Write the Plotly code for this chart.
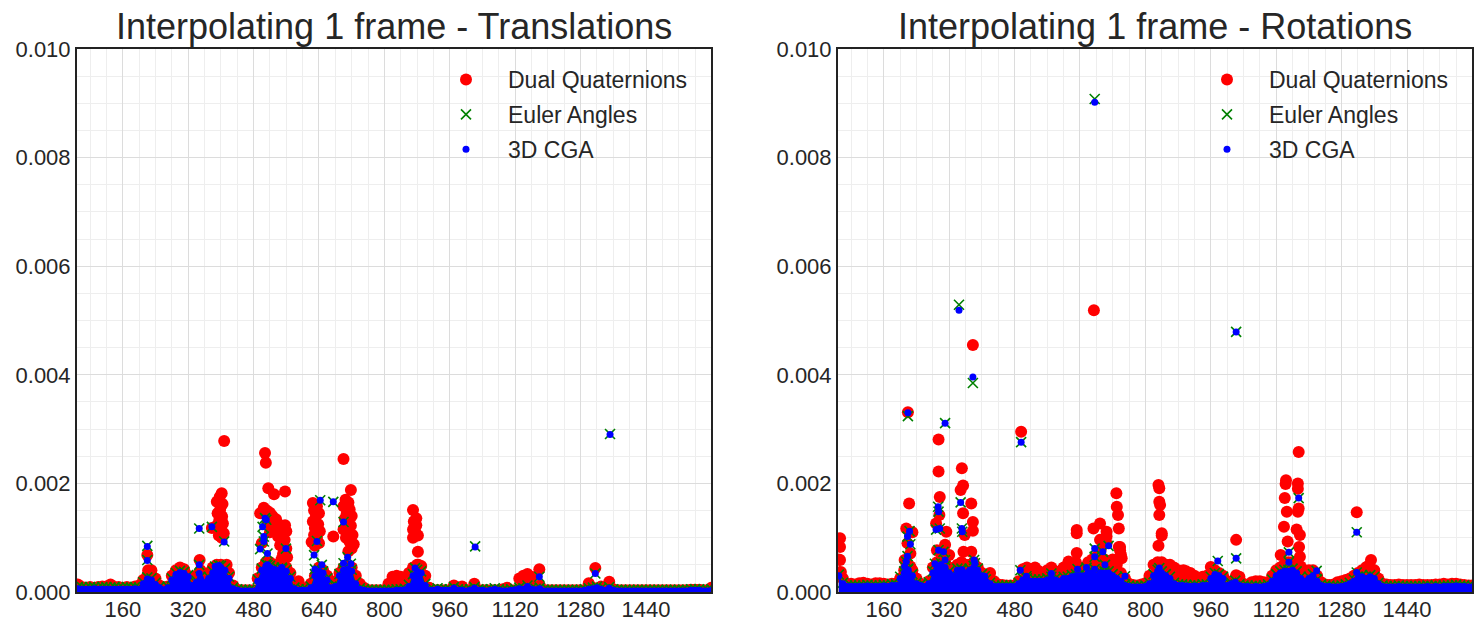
import plotly.graph_objects as go

# ---------------- data ----------------
# frame index grid for the dense low-error band (every 10th frame)
frames = list(range(50, 1601, 10))

# ---- Translations: band values (units of 1e-5) on the frame grid ----
t_dq_base = [14,9,8,9,8,9,10,10,14,9,
             9,8,9,8,10,12,22,30,40,25,
             12,6,10,30,40,45,42,30,15,30,
             40,30,35,45,50,50,45,35,12,4,
             3,3,3,3,25,45,55,55,50,50,
             50,45,35,12,20,8,4,15,30,45,
             40,30,10,20,35,45,48,45,30,15,
             8,3,3,3,3,3,15,28,30,28,
             15,35,45,50,48,30,8,3,3,3,
             3,3,12,4,10,3,3,15,3,3,
             3,3,3,3,5,8,3,3,25,30,
             33,28,10,12,3,3,3,3,3,3,
             3,3,3,3,3,16,8,6,10,6,
             19,5,3,3,3,3,3,3,3,3,
             3,3,3,3,3,3,3,3,3,3,
             4,4,4,3,3,8]
t_ea_base = [9,9,8,9,9,8,9,9,8,9,
             8,8,9,8,9,8,18,27,25,17,
             10,6,10,25,35,39,37,31,15,21,
             28,21,28,38,45,48,43,28,8,5,
             4,4,4,4,23,43,51,48,45,43,
             43,41,28,8,5,5,5,10,33,41,
             38,25,10,13,33,43,45,41,18,7,
             5,4,4,4,4,4,4,4,5,5,
             6,13,33,41,38,15,5,5,7,5,
             5,5,9,5,5,4,5,9,5,5,
             4,5,7,5,4,4,5,6,8,7,
             12,7,6,8,4,4,4,4,4,4,
             4,4,4,4,5,7,8,10,7,5,
             9,5,4,4,4,4,4,4,4,4,
             4,4,4,4,4,4,4,4,4,4,
             5,5,5,4,4,5]
t_cga_base = [6,5,5,5,6,5,5,5,5,5,
              5,5,5,5,6,5,15,24,22,14,
              8,4,8,22,32,36,34,28,12,18,
              25,18,25,35,42,45,40,25,6,3,
              2,2,2,2,20,40,48,45,42,40,
              40,38,25,6,3,3,3,8,30,38,
              35,22,8,10,30,40,42,38,15,5,
              3,2,2,2,2,2,2,2,3,3,
              4,10,30,38,35,12,3,3,5,3,
              3,3,7,3,3,2,3,7,3,3,
              2,3,5,3,2,2,3,4,6,5,
              10,5,4,6,2,2,2,2,2,2,
              2,2,2,2,3,5,6,8,5,3,
              7,3,2,2,2,2,2,2,2,2,
              2,2,2,2,2,2,2,2,2,2,
              3,3,3,2,2,3]

# ---- Translations: larger errors (units of 1e-4) ----
t_dq_x = [220,222,348,408,414,
          402,397,390,404,398,392,403,396,405,390,400,378,407,395,402,
          508,510,516,530,557,
          496,505,512,520,526,535,515,541,530,546,520,552,540,556,500,545,560,552,562,548,557,560,
          625,635,628,640,632,625,638,630,642,628,635,622,640,630,
          675,
          700,718,705,712,700,715,708,720,703,712,718,700,710,722,706,715,725,720,712,
          870,878,872,878,870,876,882,870,882,883,
          1179,1316]
t_dq_y = [6.8,4.0,5.9,27.8,5.0,
          18.2,17.5,16.6,16.2,15.1,14.5,13.9,13.2,12.6,12.2,11.6,11.8,10.8,10.4,10.0,
          25.6,23.8,19.1,18.0,18.5,
          14.5,15.5,15.0,14.6,14.0,13.4,12.8,12.5,12.0,11.5,11.0,10.8,10.2,9.6,9.0,8.6,8.0,7.0,6.4,6.0,12.3,11.2,
          16.4,15.8,15.0,14.5,13.8,13.0,12.5,11.8,11.2,10.5,10.0,9.2,9.0,8.5,
          10.2,
          24.5,18.8,17.0,16.5,15.8,15.2,14.5,14.0,13.5,13.0,12.2,11.5,11.0,10.5,10.0,9.2,8.8,8.0,7.5,
          15.1,13.6,13.0,12.3,11.5,11.0,10.4,10.0,7.4,5.0,
          4.2,4.4]
t_ea_x = [220,220,347,347,378,408,386,395,
          508,511,502,505,505,496,514,559,514,549,
          643,675,635,628,647,630,
          700,710,700,718,875,
          1022,1179,1316,1352]
t_ea_y = [8.5,5.9,11.7,5.0,12.0,9.3,4.7,4.9,
          13.6,13.3,12.0,10.2,9.3,7.9,7.1,8.0,5.0,4.5,
          16.9,16.6,9.4,6.8,5.0,4.2,
          12.9,6.4,5.3,5.2,4.4,
          8.4,2.8,3.4,29.1]
t_cga_x = [220,220,347,347,347,378,408,386,395,
           508,511,502,505,505,496,514,559,514,549,
           643,675,635,628,647,630,
           700,710,700,718,875,
           1022,1179,1316,1352]
t_cga_y = [8.4,5.8,11.7,5.0,3.4,12.0,9.2,4.7,4.9,
           13.6,13.3,12.0,10.2,9.3,7.9,7.1,8.0,5.0,4.5,
           16.9,16.6,9.3,6.8,5.0,4.2,
           12.9,6.4,5.3,5.2,4.4,
           8.3,2.8,3.4,29.0]

# ---- Rotations: band values (units of 1e-5) on the frame grid ----
r_dq_base = [60,25,14,15,14,16,17,15,14,16,
             16,15,14,15,15,25,40,50,40,25,
             15,12,20,45,55,60,55,45,40,50,
             55,50,50,55,45,35,25,35,20,14,
             13,12,12,12,20,42,45,42,45,38,
             35,40,45,35,38,45,50,45,55,40,
             45,55,60,65,55,60,55,60,50,35,
             25,15,13,12,14,16,30,50,55,55,
             50,45,45,40,35,38,35,30,25,28,
             30,35,40,35,30,20,15,25,28,15,
             13,18,20,20,18,15,30,40,45,50,
             55,55,50,40,35,40,40,30,18,14,
             13,14,18,20,22,25,30,35,40,45,
             45,40,25,15,14,13,13,14,13,13,
             13,13,14,13,13,13,14,14,15,14,
             15,15,14,13,12,12]
r_ea_base = [32,17,12,12,12,12,12,13,12,12,
             12,13,12,14,14,28,38,43,33,17,
             14,12,18,38,48,53,48,38,33,43,
             43,38,43,48,43,33,23,17,12,12,
             12,12,12,12,17,25,25,23,23,23,
             23,25,28,25,23,28,28,31,33,33,
             33,38,38,33,38,38,38,33,28,23,
             14,12,11,11,11,12,17,33,41,38,
             33,28,17,14,14,13,12,13,12,14,
             14,28,35,33,28,14,17,21,14,12,
             12,11,12,11,12,14,23,33,38,41,
             41,43,38,28,23,28,33,23,14,12,
             12,11,11,12,14,17,23,28,31,28,
             31,28,17,12,11,11,11,12,11,11,
             11,11,11,11,12,11,12,11,12,12,
             12,13,12,12,11,11]
r_cga_base = [30,15,10,10,10,10,10,11,10,10,
              10,11,10,12,12,25,35,40,30,15,
              12,10,15,35,45,50,45,35,30,40,
              40,35,40,45,40,30,20,15,10,10,
              10,10,10,10,15,22,22,20,20,20,
              20,22,25,22,20,25,25,28,30,30,
              30,35,35,30,35,35,35,30,25,20,
              12,10,9,9,9,10,15,30,38,35,
              30,25,15,12,12,11,10,11,10,12,
              12,25,32,30,25,12,15,18,12,10,
              10,9,10,9,10,12,20,30,35,38,
              38,40,35,25,20,25,30,20,12,10,
              10,9,9,10,12,15,20,25,28,25,
              28,25,15,10,9,9,9,10,9,9,
              9,9,9,9,10,9,10,9,10,10,
              10,11,10,10,9,9]

# ---- Rotations: larger errors (units of 1e-4) ----
r_dq_x = [53,53,53,55,
          219,222,215,230,218,225,211,225,
          294,294,297,296,288,313,310,290,320,
          351,354,348,374,354,378,378,358,355,374,
          378,496,674,
          612,632,632,632,673,689,689,705,705,705,742,738,738,690,
          729,730,733,735,735,740,
          832,834,834,836,834,840,840,832,840,860,893,930,
          960,1022,1022,
          1144,1143,1141,1146,1139,1148,1131,1135,1175,1173,1173,1175,1173,1176,1178,1180,1170,1178,
          1317,1352,1343]
r_dq_y = [9.9,8.3,5.9,3.7,
          33.1,16.3,11.7,11.0,9.0,7.1,5.9,4.7,
          28.1,22.2,17.5,14.2,12.6,11.1,8.7,7.7,6.8,
          22.8,19.6,18.8,16.3,14.5,12.9,11.3,10.5,7.4,7.4,
          45.5,29.5,51.9,
          5.6,11.4,10.8,7.2,11.7,12.6,9.6,11.1,9.0,10.2,6.2,8.3,7.7,7.7,
          18.2,15.7,14.2,11.7,8.3,6.9,
          19.7,19.1,16.6,16.0,14.2,10.8,10.4,8.5,5.3,5.0,4.0,2.5,
          4.6,9.6,3.1,
          20.6,19.9,17.3,14.8,12.0,9.3,6.8,4.7,25.8,20.0,19.0,15.4,14.8,8.3,6.5,4.7,11.5,10.5,
          14.7,5.9,4.7]
r_ea_x = [676,344,378,219,310,496,1022,1175,1317,977,1022,1219,
          223,218,225,218,215,211,218,
          293,294,288,297,294,306,285,310,
          348,351,352,381,383,351,
          407,494,509,570,634,656,676,676,676,696,710,701,750,
          1151,1151,1317,834,296]
r_ea_y = [90.8,52.9,38.5,32.4,31.1,27.6,47.9,17.3,11.0,5.7,6.2,3.9,
          11.2,10.2,8.8,6.6,5.6,4.7,4.1,
          15.7,14.8,11.5,11.7,7.7,7.4,5.2,5.9,
          16.5,11.7,11.1,5.9,5.3,4.1,
          2.9,4.0,2.9,3.4,4.2,4.5,4.2,8.0,6.5,7.4,8.5,5.0,2.9,
          7.3,5.5,3.6,4.4,0.3]
r_cga_x = [676,344,378,219,310,496,1022,1175,1317,977,1022,1219,
           223,218,225,218,215,211,218,
           293,294,288,297,294,306,285,310,
           348,351,352,381,383,351,
           407,494,509,570,634,656,676,676,676,696,710,701,750,
           1151,1151,1317,834]
r_cga_y = [90.2,51.9,39.6,33.0,31.1,27.6,47.9,17.3,11.0,5.7,6.2,3.9,
           11.2,10.2,8.8,6.6,5.6,4.7,4.1,
           15.7,14.8,11.5,11.7,7.7,7.4,5.2,5.9,
           16.5,11.7,11.1,5.9,5.3,4.1,
           2.9,4.0,2.9,3.4,4.2,4.5,4.2,8.0,6.5,7.4,8.5,5.0,2.9,
           7.3,5.5,3.6,4.4]

titles = ["Interpolating 1 frame - Translations", "Interpolating 1 frame - Rotations"]
series_names = ["Dual Quaternions", "Euler Angles", "3D CGA"]
x_tickvals = [160, 320, 480, 640, 800, 960, 1120, 1280, 1440]
y_tickvals = [0.0, 0.002, 0.004, 0.006, 0.008, 0.010]

for lst in (t_dq_base, t_ea_base, t_cga_base, r_dq_base, r_ea_base, r_cga_base):
    assert len(lst) == len(frames), len(lst)
for a, b in ((t_dq_x, t_dq_y), (t_ea_x, t_ea_y), (t_cga_x, t_cga_y),
             (r_dq_x, r_dq_y), (r_ea_x, r_ea_y), (r_cga_x, r_cga_y)):
    assert len(a) == len(b), (len(a), len(b))

# ---------------- figure ----------------
W, H = 1483, 633
FONT = "Liberation Sans, Arial, sans-serif"
TXT = "#262626"
colors = ["#ff0000", "#008000", "#0000ff"]

panels = [
    [(t_dq_base, t_dq_x, t_dq_y), (t_ea_base, t_ea_x, t_ea_y), (t_cga_base, t_cga_x, t_cga_y)],
    [(r_dq_base, r_dq_x, r_dq_y), (r_ea_base, r_ea_x, r_ea_y), (r_cga_base, r_cga_x, r_cga_y)],
]

styles = [
    dict(symbol="circle", size=12, color=colors[0], line=dict(width=0)),
    dict(symbol="x-thin", size=10, color=colors[1], line=dict(width=1.6, color=colors[1])),
    dict(symbol="circle", size=7, color=colors[2], line=dict(width=0)),
]

fig = go.Figure()
for p, panel in enumerate(panels):
    xa = "x" if p == 0 else "x2"
    ya = "y" if p == 0 else "y2"
    lg = "legend" if p == 0 else "legend2"
    for s, (base, ex_x, ex_y) in enumerate(panel):
        base_y = [v * 1e-5 for v in base]
        # dense overlapping samples of the band merge into a solid mass
        fig.add_trace(go.Scatter(
            x=frames, y=base_y, mode="none", fill="tozeroy",
            fillcolor=colors[s], xaxis=xa, yaxis=ya, showlegend=False,
            hoverinfo="skip",
        ))
        fig.add_trace(go.Scatter(
            x=frames + ex_x, y=base_y + [v * 1e-4 for v in ex_y],
            mode="markers", name=series_names[s],
            marker=styles[s], xaxis=xa, yaxis=ya, legend=lg,
            legendgroup=f"g{p}{s}", showlegend=True,
        ))

px_l = [77, 838]
px_w = 634
top_px, bot_px = 49, 592
ydom = [1 - bot_px / H, 1 - top_px / H]

axis_common = dict(
    showline=True, mirror=True, linecolor="#222222", linewidth=2,
    showgrid=True, gridcolor="#dcdcdc", gridwidth=1,
    zeroline=False, ticks="", ticklen=0, automargin=False,
    tickfont=dict(family=FONT, size=22, color=TXT),
)

layout = dict(
    width=W, height=H,
    margin=dict(l=0, r=0, t=0, b=0, autoexpand=False),
    paper_bgcolor="white", plot_bgcolor="white",
    font=dict(family=FONT, color=TXT),
    showlegend=True,
)
for p in range(2):
    xd = [px_l[p] / W, (px_l[p] + px_w) / W]
    suffix = "" if p == 0 else "2"
    layout["xaxis" + suffix] = dict(
        axis_common, domain=xd, range=[48, 1599],
        tickvals=x_tickvals, ticktext=[str(v) for v in x_tickvals],
        minor=dict(dtick=40, tick0=0, showgrid=True, gridcolor="#eeeeee", gridwidth=1, ticklen=0),
        ticklabelstandoff=-3,
        anchor="y" + suffix,
    )
    layout["yaxis" + suffix] = dict(
        axis_common, domain=ydom, range=[0, 0.010],
        tickvals=y_tickvals, ticktext=[f"{v:.3f}" for v in y_tickvals],
        minor=dict(dtick=0.0005, tick0=0, showgrid=True, gridcolor="#eeeeee", gridwidth=1, ticklen=0),
        ticklabelstandoff=0,
        anchor="x" + suffix,
    )
    leg = dict(
        x=(424 + (px_l[p] - 77)) / W, xanchor="left",
        y=1 - 58 / H, yanchor="top",
        bgcolor="rgba(0,0,0,0)", borderwidth=0,
        font=dict(family=FONT, size=23, color=TXT),
        itemwidth=74, tracegroupgap=2,
    )
    layout["legend" + ("" if p == 0 else "2")] = leg

fig.update_layout(**layout)

for p in range(2):
    fig.add_annotation(
        text=titles[p], xref="paper", yref="paper",
        x=(px_l[p] + px_w / 2) / W, y=1 - 27 / H,
        xanchor="center", yanchor="middle", showarrow=False,
        font=dict(family=FONT, size=36, color=TXT),
    )

fig.write_html("out.html", config={"displayModeBar": False},
               post_script="document.body.style.margin='0px';")
